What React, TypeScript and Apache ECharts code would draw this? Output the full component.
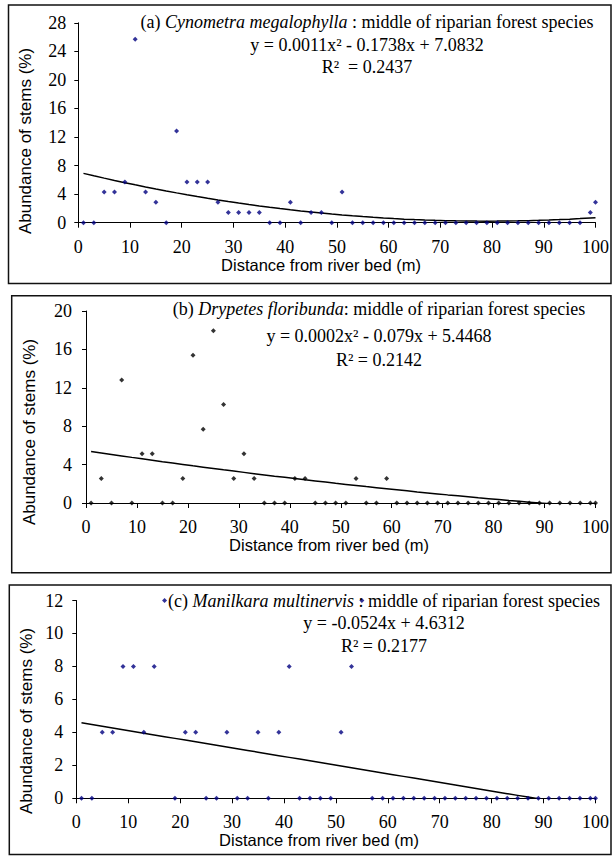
import React, { useEffect, useRef } from 'react';
import * as echarts from 'echarts';

// Distance from river bed (m)
const DISTANCE = [1, 3, 5, 7, 9, 11, 13, 15, 17, 19, 21, 23, 25, 27, 29, 31, 33, 35, 37, 39, 41, 43, 45, 47, 49, 51, 53, 55, 57, 59, 61, 63, 65, 67, 69, 71, 73, 75, 77, 79, 81, 83, 85, 87, 89, 91, 93, 95, 97, 99, 100];

// (a) Cynometra megalophylla abundance (%)
const CYNOMETRA = [0, 0, 4.29, 4.29, 5.71, 25.71, 4.29, 2.86, 0, 12.86, 5.71, 5.71, 5.71, 2.86, 1.43, 1.43, 1.43, 1.43, 0, 0, 2.86, 0, 1.43, 1.43, 0, 4.29, 0, 0, 0, 0, 0, 0, 0, 0, 0, 0, 0, 0, 0, 0, 0, 0, 0, 0, 0, 0, 0, 0, 0, 1.43, 2.86];

// (b) Drypetes floribunda abundance (%)
const DRYPETES = [0, 2.56, 0, 12.82, 0, 5.13, 5.13, 0, 0, 2.56, 15.38, 7.69, 17.95, 10.26, 2.56, 5.13, 2.56, 0, 0, 0, 2.56, 2.56, 0, 0, 0, 0, 2.56, 0, 0, 2.56, 0, 0, 0, 0, 0, 0, 0, 0, 0, 0, 0, 0, 0, 0, 0, 0, 0, 0, 0, 0, 0];

// (c) Manilkara multinervis abundance (%)
const MANILKARA = [0, 0, 4, 4, 8, 8, 4, 8, 12, 0, 4, 4, 0, 0, 4, 0, 0, 4, 0, 4, 8, 0, 0, 0, 0, 4, 8, 12, 0, 0, 0, 0, 0, 0, 0, 0, 0, 0, 0, 0, 0, 0, 0, 0, 0, 0, 0, 0, 0, 0, 0];

// Trendline coefficients as printed: [x², x, constant]
const TREND_A = [0.0011, -0.1738, 7.0832];
const TREND_B = [0.0002, -0.079, 5.4468];
const TREND_C = [0, -0.0524, 4.6312];

const Y_MAX = [28, 20, 12];
const Y_STEP = [4, 4, 2];

const SPECIES = ['Cynometra megalophylla', 'Drypetes floribunda', 'Manilkara multinervis'];
const PREFIX = ['(a) ', '(b) ', '(c) '];
const SUFFIX = [' : middle of riparian forest species', ': middle of riparian forest species', ' : middle of riparian forest species'];
const EQUATIONS = ['y = 0.0011x² - 0.1738x + 7.0832', 'y = 0.0002x² - 0.079x + 5.4468', 'y = -0.0524x + 4.6312'];
const R2 = ['R²  = 0.2437', 'R² = 0.2142', 'R² = 0.2177'];
const Y_TITLE = 'Abundance of stems (%)';
const X_TITLE = 'Distance from river bed (m)';

const SERIF = '"Liberation Serif", "Times New Roman", serif';
const SANS = '"Liberation Sans", Arial, sans-serif';

export default function App() {
  const ref = useRef<HTMLDivElement>(null);

  useEffect(() => {
    const chart = echarts.init(ref.current!, null, { renderer: 'svg' });

    const values = [CYNOMETRA, DRYPETES, MANILKARA];
    const trends = [TREND_A, TREND_B, TREND_C];
    const markerColors = ['#000080', '#000000', '#000080'];

    const grids = [
      { left: 78.3, top: 22.8, width: 519.4, height: 199.9 },
      { left: 86, top: 311, width: 513.3, height: 192 },
      { left: 76.3, top: 600.5, width: 524, height: 197.8 },
    ];
    const yLabelMargin = [12, 14, 13];
    const boxes = [
      { x: 8.5, y: 5, w: 602.5, h: 278.5 },
      { x: 11.7, y: 295.7, w: 599.3, h: 277 },
      { x: 9.3, y: 585, w: 601.7, h: 269.5 },
    ];
    const yTitlePos = [
      { x: 25.8, y: 141 },
      { x: 29, y: 432 },
      { x: 26, y: 721 },
    ];
    const xTitlePos = [
      { x: 321, y: 265 },
      { x: 329, y: 545 },
      { x: 319, y: 840 },
    ];
    const annot = [
      { x: 367, ys: [21.7, 45, 67.3] },
      { x: 379, ys: [309, 336, 360] },
      { x: 384, ys: [600.7, 623.3, 646] },
    ];

    const xAxis = grids.map((_, i) => ({
      type: 'value',
      gridIndex: i,
      min: 0,
      max: 100,
      interval: 10,
      axisLine: { show: true, onZero: false, lineStyle: { color: '#000', width: 1 } },
      axisTick: { show: true, length: 5, lineStyle: { color: '#000' } },
      axisLabel: { show: true, margin: 15, fontFamily: SERIF, fontSize: 18, color: '#000', showMinLabel: true, showMaxLabel: true },
      splitLine: { show: false },
    }));

    const yAxis = grids.map((_, i) => ({
      type: 'value',
      gridIndex: i,
      min: 0,
      max: Y_MAX[i],
      interval: Y_STEP[i],
      axisLine: { show: true, onZero: false, lineStyle: { color: '#000', width: 1 } },
      axisTick: { show: true, length: 4, lineStyle: { color: '#000' } },
      axisLabel: { show: true, margin: yLabelMargin[i], fontFamily: SERIF, fontSize: 18, color: '#000', showMinLabel: true, showMaxLabel: true },
      splitLine: { show: false },
    }));

    const series: any[] = [];
    values.forEach((vals, i) => {
      const c = trends[i];
      series.push({
        type: 'line',
        xAxisIndex: i,
        yAxisIndex: i,
        data: DISTANCE.map((x) => [x, c[0] * x * x + c[1] * x + c[2]]),
        showSymbol: false,
        symbol: 'none',
        clip: true,
        lineStyle: { color: '#000', width: 1.5 },
        z: 2,
      });
      series.push({
        type: 'scatter',
        xAxisIndex: i,
        yAxisIndex: i,
        data: DISTANCE.map((x, k) => [x, vals[k]]),
        symbol: 'diamond',
        symbolSize: 5,
        clip: false,
        itemStyle: { color: markerColors[i] },
        z: 3,
      });
    });

    const graphic: any[] = [];
    boxes.forEach((b) => {
      graphic.push({
        type: 'rect',
        shape: { x: b.x, y: b.y, width: b.w, height: b.h },
        style: { fill: 'none', stroke: '#111', lineWidth: 1.5 },
        z: 0,
      });
    });
    yTitlePos.forEach((p) => {
      graphic.push({
        type: 'text',
        x: p.x,
        y: p.y,
        rotation: Math.PI / 2,
        style: { text: Y_TITLE, fontFamily: SANS, fontSize: 17, fill: '#000', align: 'center', verticalAlign: 'middle' },
        z: 5,
      });
    });
    xTitlePos.forEach((p) => {
      graphic.push({
        type: 'text',
        x: p.x,
        y: p.y,
        style: { text: X_TITLE, fontFamily: SANS, fontSize: 16.5, fill: '#000', align: 'center', verticalAlign: 'middle' },
        z: 5,
      });
    });
    annot.forEach((a, i) => {
      graphic.push({
        type: 'text',
        x: a.x,
        y: a.ys[0],
        style: {
          text: `{n|${PREFIX[i]}}{it|${SPECIES[i]}}{n|${SUFFIX[i]}}`,
          fontFamily: SERIF,
          fontSize: 18,
          fill: '#000',
          align: 'center',
          verticalAlign: 'middle',
          rich: {
            n: { fontFamily: SERIF, fontSize: 18, fill: '#000' },
            it: { fontFamily: SERIF, fontSize: 18, fontStyle: 'italic', fill: '#000' },
          },
        },
        z: 5,
      });
      graphic.push({
        type: 'text',
        x: a.x,
        y: a.ys[1],
        style: { text: EQUATIONS[i], fontFamily: SERIF, fontSize: 18, fill: '#000', align: 'center', verticalAlign: 'middle' },
        z: 5,
      });
      graphic.push({
        type: 'text',
        x: a.x,
        y: a.ys[2],
        style: { text: R2[i], fontFamily: SERIF, fontSize: 18, fill: '#000', align: 'center', verticalAlign: 'middle' },
        z: 5,
      });
    });

    chart.setOption({
      animation: false,
      backgroundColor: '#fff',
      grid: grids.map((g) => ({ ...g, containLabel: false })),
      xAxis,
      yAxis,
      series,
      graphic,
    });

    return () => chart.dispose();
  }, []);

  return (
    <div
      ref={ref}
      style={{ position: 'absolute', left: 0, top: 0, width: 612, height: 858, background: '#fff' }}
    />
  );
}
